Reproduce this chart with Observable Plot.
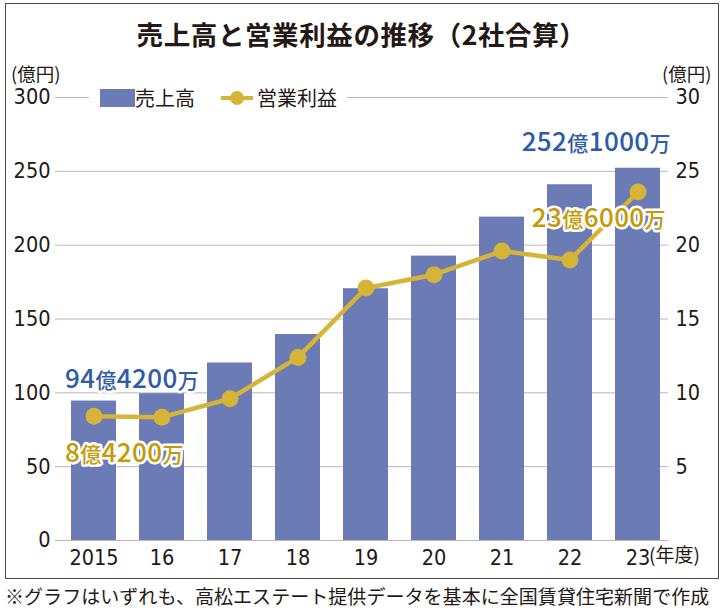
<!DOCTYPE html>
<html><head><meta charset="utf-8">
<script src="https://cdn.jsdelivr.net/npm/d3@7"></script>
<script src="https://cdn.jsdelivr.net/npm/@observablehq/plot@0.6"></script>
<style>
body{margin:0;background:#fff;}
#wrap{position:relative;width:723px;height:610px;overflow:hidden;font-family:"Noto Sans CJK JP",sans-serif;color:#231815;}
#frame{position:absolute;left:5px;top:3px;width:714px;height:576px;border:1.5px solid #4a4a4a;box-sizing:border-box;}
#title{position:absolute;left:0;width:723px;top:14px;text-align:center;font-size:26.5px;font-weight:700;line-height:40px;letter-spacing:0.6px;}
#chart{position:absolute;left:0;top:0;}
.unit{position:absolute;top:63px;font-size:18.5px;line-height:20px;}
#legend{position:absolute;left:89px;top:86px;width:258px;height:24px;background:#fff;display:flex;align-items:center;font-size:20px;}
#legend .sw{width:35px;height:18px;background:#6a7bb5;margin-left:11px;}
#legend .ln{position:relative;width:32px;height:4px;background:#d6b43a;margin-left:26px;margin-right:4px;}
#legend .ln::after{content:"";position:absolute;left:9px;top:-5px;width:14px;height:14px;border-radius:50%;background:#d6b43a;}
#legend span{line-height:24px;}
#note{position:absolute;left:5px;top:582px;font-size:19px;line-height:28px;white-space:nowrap;letter-spacing:0.05px;}
</style></head>
<body>
<div id="wrap">
  <div id="frame"></div>
  <div id="title">売上高と営業利益の推移（2社合算）</div>
  <div id="chart"></div>
  <div class="unit" style="left:11px">(億円)</div>
  <div class="unit" style="left:662px">(億円)</div>
  <div id="legend"><div class="sw"></div><span>売上高</span><div class="ln"></div><span>営業利益</span></div>
  <div id="note">※グラフはいずれも、高松エステート提供データを基本に全国賃貸住宅新聞で作成</div>
</div>
<script>
const years = ["2015","16","17","18","19","20","21","22","23"];
const revenue = [94.42, 99.4, 120.2, 139.5, 170.5, 192.6, 219.0, 240.9, 252.1];
const profit = [8.42, 8.35, 9.6, 12.4, 17.1, 18.0, 19.6, 19.0, 23.6];
const leftTicks = [0, 50, 100, 150, 200, 250, 300];
const rightTicks = [5, 10, 15, 20, 25, 30];
const revenueLabels = [["2015", "94億4200万"], ["23", "252億1000万"]];
const profitLabels = [["2015", "8億4200万"], ["23", "23億6000万"]];
const xUnit = "(年度)";

const data = years.map((y, i) => ({year: y, revenue: revenue[i], profit: profit[i]}));
const find = y => data.find(d => d.year === y);
const ratio = 10; // right axis (0–30) drawn on the left axis scale (0–300)

const BLUE = "#6a7bb5", GOLD = "#d6b43a", BLUE_T = "#2f5ca8", GOLD_T = "#c59a06";
const axisFont = "'Liberation Sans Narrow','DejaVu Sans Condensed',sans-serif";
const annoFont = "'Noto Sans CJK JP',sans-serif";

const revAnno = revenueLabels.map(([y, t]) => ({...find(y), label: t}));
const proAnno = profitLabels.map(([y, t]) => ({...find(y), label: t}));

const chart = Plot.plot({
  width: 723, height: 610,
  marginTop: 97, marginBottom: 70, marginLeft: 62, marginRight: 54,
  x: {domain: years, paddingInner: 0.344, paddingOuter: 0.102},
  y: {domain: [0, 300]},
  style: {background: "transparent", color: "#231815", overflow: "visible", fontFamily: axisFont},
  marks: [
    Plot.ruleY(leftTicks, {stroke: "#b8b8b8", strokeWidth: 1, insetLeft: -7, insetRight: 1}),
    Plot.barY(data, {x: "year", y: "revenue", fill: BLUE}),
    Plot.line(data, {x: "year", y: d => d.profit * ratio, stroke: GOLD, strokeWidth: 4.5}),
    Plot.dot(data, {x: "year", y: d => d.profit * ratio, r: 8.5, fill: GOLD}),
    Plot.axisY(leftTicks, {anchor: "left", tickSize: 0, tickPadding: 12, fontSize: 21.5, label: null, fontFamily: axisFont}),
    Plot.axisY(rightTicks.map(d => d * ratio), {anchor: "right", tickSize: 0, tickPadding: 6, fontSize: 21.5, label: null, fontFamily: axisFont,
      tickFormat: d => String(d / ratio)}),
    Plot.axisX({tickSize: 0, tickPadding: 9, fontSize: 21.5, label: null, fontFamily: axisFont}),
    Plot.text([find("23")], {x: "year", y: 0, text: () => xUnit, textAnchor: "start", lineAnchor: "top",
      dx: 11, dy: 8, fontSize: 19, fontFamily: annoFont}),
    Plot.text([revAnno[0]], {x: "year", y: "revenue", text: "label", textAnchor: "start", lineAnchor: "middle",
      dx: -29, dy: -21, fill: BLUE_T, stroke: "white", strokeWidth: 5, className: "anno", fontFamily: annoFont}),
    Plot.text([revAnno[1]], {x: "year", y: "revenue", text: "label", textAnchor: "end", lineAnchor: "middle",
      dx: 33, dy: -26, fill: BLUE_T, stroke: "white", strokeWidth: 5, className: "anno", fontFamily: annoFont}),
    Plot.text([proAnno[0]], {x: "year", y: d => d.profit * ratio, text: "label", textAnchor: "start", lineAnchor: "middle",
      dx: -29, dy: 38, fill: GOLD_T, stroke: "white", strokeWidth: 5, className: "anno", fontFamily: annoFont}),
    Plot.text([proAnno[1]], {x: "year", y: d => d.profit * ratio, text: "label", textAnchor: "end", lineAnchor: "middle",
      dx: 28, dy: 27, fill: GOLD_T, stroke: "white", strokeWidth: 5, className: "anno", fontFamily: annoFont})
  ]
});
document.getElementById("chart").appendChild(chart);

// Mixed sizes inside annotation labels: digits large, 億/万 smaller
chart.querySelectorAll("g.anno text").forEach(t => {
  const s = t.textContent;
  t.textContent = "";
  t.setAttribute("font-size", "26");
  t.setAttribute("font-weight", "500");
  t.setAttribute("letter-spacing", "0.4");
  t.setAttribute("stroke-linejoin", "round");
  t.setAttribute("paint-order", "stroke");
  const runs = s.match(/[0-9]+|[^0-9]+/g);
  runs.forEach(r => {
    const ts = document.createElementNS("http://www.w3.org/2000/svg", "tspan");
    ts.textContent = r;
    if (!/[0-9]/.test(r)) ts.setAttribute("font-size", "21");
    t.appendChild(ts);
  });
});
</script>
</body></html>
